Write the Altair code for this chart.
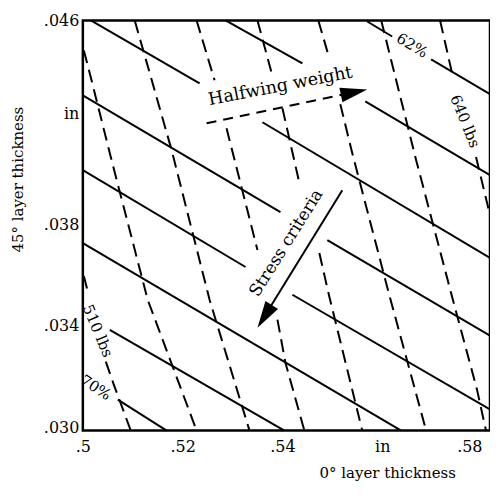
import altair as alt
import pandas as pd

FONT = "DejaVu Serif"

# ---- stress-criteria contours (solid), broken where labels/arrows sit ----
stress_x1 = [0.5570, 0.5698, 0.5286, 0.5566, 0.5016, 0.5360, 0.5000, 0.5490, 0.5000, 0.5420, 0.5000, 0.5054, 0.5070]
stress_y1 = [0.04596, 0.04447, 0.04600, 0.04282, 0.04600, 0.04200, 0.04306, 0.03737, 0.04012, 0.03522, 0.03725, 0.03384, 0.03110]
stress_x2 = [0.5620, 0.5816, 0.5440, 0.5816, 0.5234, 0.5816, 0.5396, 0.5816, 0.5326, 0.5816, 0.5638, 0.5404, 0.5168]
stress_y2 = [0.04537, 0.04310, 0.04431, 0.03992, 0.04353, 0.03667, 0.03847, 0.03361, 0.03631, 0.03071, 0.02988, 0.02988, 0.02988]

# ---- halfwing-weight contours (dashed) ----
weight_curve = (["L0a"] * 2 + ["L0b"] * 3 + ["L1"] * 5 + ["L2"] * 4 +
                ["L3a"] * 2 + ["L3b"] * 2 + ["L3c"] * 3 +
                ["L4a"] * 2 + ["L4b"] * 2 + ["L4c"] * 3 +
                ["L5a"] * 2 + ["L5b"] * 4 + ["L6"] * 5 + ["L7a"] * 2 + ["L7b"] * 2)
weight_x = [0.5002, 0.5010,
            0.5046, 0.5062, 0.5096,
            0.5002, 0.5016, 0.5056, 0.5130, 0.5228,
            0.5104, 0.5178, 0.5254, 0.5334,
            0.5228, 0.5264,
            0.5288, 0.5350,
            0.5390, 0.5406, 0.5444,
            0.5350, 0.5378,
            0.5400, 0.5434,
            0.5474, 0.5494, 0.5560,
            0.5472, 0.5494,
            0.5516, 0.5540, 0.5614, 0.5688,
            0.5598, 0.5668, 0.5740, 0.5790, 0.5808,
            0.5716, 0.5740,
            0.5788, 0.5816]
weight_y = [0.03596, 0.03533,
            0.03259, 0.03169, 0.02988,
            0.04482, 0.04376, 0.04063, 0.03502, 0.02988,
            0.04600, 0.04090, 0.03502, 0.02988,
            0.04600, 0.04365,
            0.04176, 0.03698,
            0.03424, 0.03255, 0.02988,
            0.04600, 0.04396,
            0.04255, 0.03961,
            0.03686, 0.03514, 0.02988,
            0.04600, 0.04451,
            0.04271, 0.04078, 0.03522, 0.02988,
            0.04600, 0.04051, 0.03514, 0.03149, 0.02988,
            0.04600, 0.04392,
            0.04063, 0.03835]

# ---- annotations ----
note_text = ["Halfwing weight", "Stress criteria", "62%", "640 lbs", "510 lbs", "70%"]
note_x = [0.5396, 0.5408, 0.5660, 0.5766, 0.5030, 0.5026]
note_y = [0.04341, 0.03725, 0.04502, 0.04204, 0.03380, 0.03157]
note_angle = [349, 302, 31, 68, 67, 33]
note_size = [17.5, 17, 15, 15, 15, 15]

# ---- arrows ----
arrow_x1 = [0.5248, 0.5520]
arrow_y1 = [0.04196, 0.03933]
arrow_x2 = [0.5524, 0.5362]
arrow_y2 = [0.04310, 0.03431]
arrow_dash = ["dashed", "solid"]
tip_x = [0.5570, 0.5350]
tip_y = [0.04329, 0.03392]
tip_angle = [348, 122]

x_ticks = [0.50, 0.52, 0.54, 0.56, 0.58]
y_ticks = [0.030, 0.034, 0.038, 0.04235, 0.046]
x_domain = [0.5, 0.5816]
y_domain = [0.02988, 0.046]

stress_df = pd.DataFrame({"x": stress_x1, "y": stress_y1, "x2": stress_x2, "y2": stress_y2})
weight_df = pd.DataFrame({"curve": weight_curve, "x": weight_x, "y": weight_y})
weight_df["order"] = range(len(weight_df))
note_df = pd.DataFrame({"text": note_text, "x": note_x, "y": note_y,
                        "angle": note_angle, "size": note_size})
arrow_df = pd.DataFrame({"x": arrow_x1, "y": arrow_y1, "x2": arrow_x2, "y2": arrow_y2,
                         "dash": arrow_dash})
tip_df = pd.DataFrame({"x": tip_x, "y": tip_y, "angle": tip_angle})

x_axis = alt.Axis(
    values=x_ticks,
    labelExpr="abs(datum.value - 0.56) < 0.001 ? 'in' : replace(format(datum.value, '.2~f'), '0.', '.')",
    labelAlign={"condition": {"test": "datum.value > 0.57", "value": "right"}, "value": "center"},
    ticks=False, tickSize=0, domain=False, grid=False,
    labelFont=FONT, labelFontSize=16, labelColor="black", labelPadding=8,
    labelFlush=False, labelOverlap=False,
    title="0° layer thickness", titleFont=FONT, titleFontSize=15,
    titleFontWeight="normal", titleColor="black",
    titleX=305, titleY=42, titleAlign="center", titleBaseline="middle",
)
y_axis = alt.Axis(
    values=y_ticks,
    labelExpr="datum.value > 0.041 && datum.value < 0.044 ? 'in' : replace(format(datum.value, '.3f'), '0.', '.')",
    ticks=False, tickSize=0, domain=False, grid=False,
    labelFont=FONT, labelFontSize=16, labelColor="black", labelPadding=4,
    labelFlush=False, labelOverlap=False,
    title="45° layer thickness", titleFont=FONT, titleFontSize=15,
    titleFontWeight="normal", titleColor="black", titleAngle=270,
    titleX=-65, titleY=159, titleAlign="center", titleBaseline="middle",
)

xs = alt.Scale(domain=x_domain, nice=False, zero=False)
ys = alt.Scale(domain=y_domain, nice=False, zero=False)
X = alt.X("x:Q", scale=xs, axis=x_axis)
Y = alt.Y("y:Q", scale=ys, axis=y_axis)

stress = alt.Chart(stress_df).mark_rule(color="black", strokeWidth=2).encode(
    x=X, y=Y, x2="x2:Q", y2="y2:Q")

weight = alt.Chart(weight_df).mark_line(
    color="black", strokeWidth=2, strokeDash=[13, 7]).encode(
    x=X, y=Y, detail="curve:N", order="order:Q")

notes = alt.Chart(note_df).mark_text(
    font=FONT, color="black", align="center", baseline="middle").encode(
    x=X, y=Y, text="text:N",
    angle=alt.Angle("angle:Q", scale=None),
    size=alt.Size("size:Q", scale=None))

arrow_dashed = alt.Chart(arrow_df).transform_filter(alt.datum.dash == "dashed").mark_rule(
    color="black", strokeWidth=2, strokeDash=[10, 7]).encode(
    x=X, y=Y, x2="x2:Q", y2="y2:Q")
arrow_solid = alt.Chart(arrow_df).transform_filter(alt.datum.dash == "solid").mark_rule(
    color="black", strokeWidth=2).encode(
    x=X, y=Y, x2="x2:Q", y2="y2:Q")

tips = alt.Chart(tip_df).mark_point(
    shape="M0,0L-2,-0.55L-2,0.55Z", filled=True, fill="black", stroke=None,
    opacity=1, size=729).encode(
    x=X, y=Y, angle=alt.Angle("angle:Q", scale=None))

chart = alt.layer(stress, weight, notes, arrow_dashed, arrow_solid, tips).properties(
    width=408, height=411,
    autosize=alt.AutoSizeParams(type="none"),
    padding={"left": 75, "top": 12, "right": 0, "bottom": 52},
    background="white",
).configure_view(stroke="black", strokeWidth=2.5)

chart.save("out.html", embed_options={"renderer": "svg", "actions": False})
